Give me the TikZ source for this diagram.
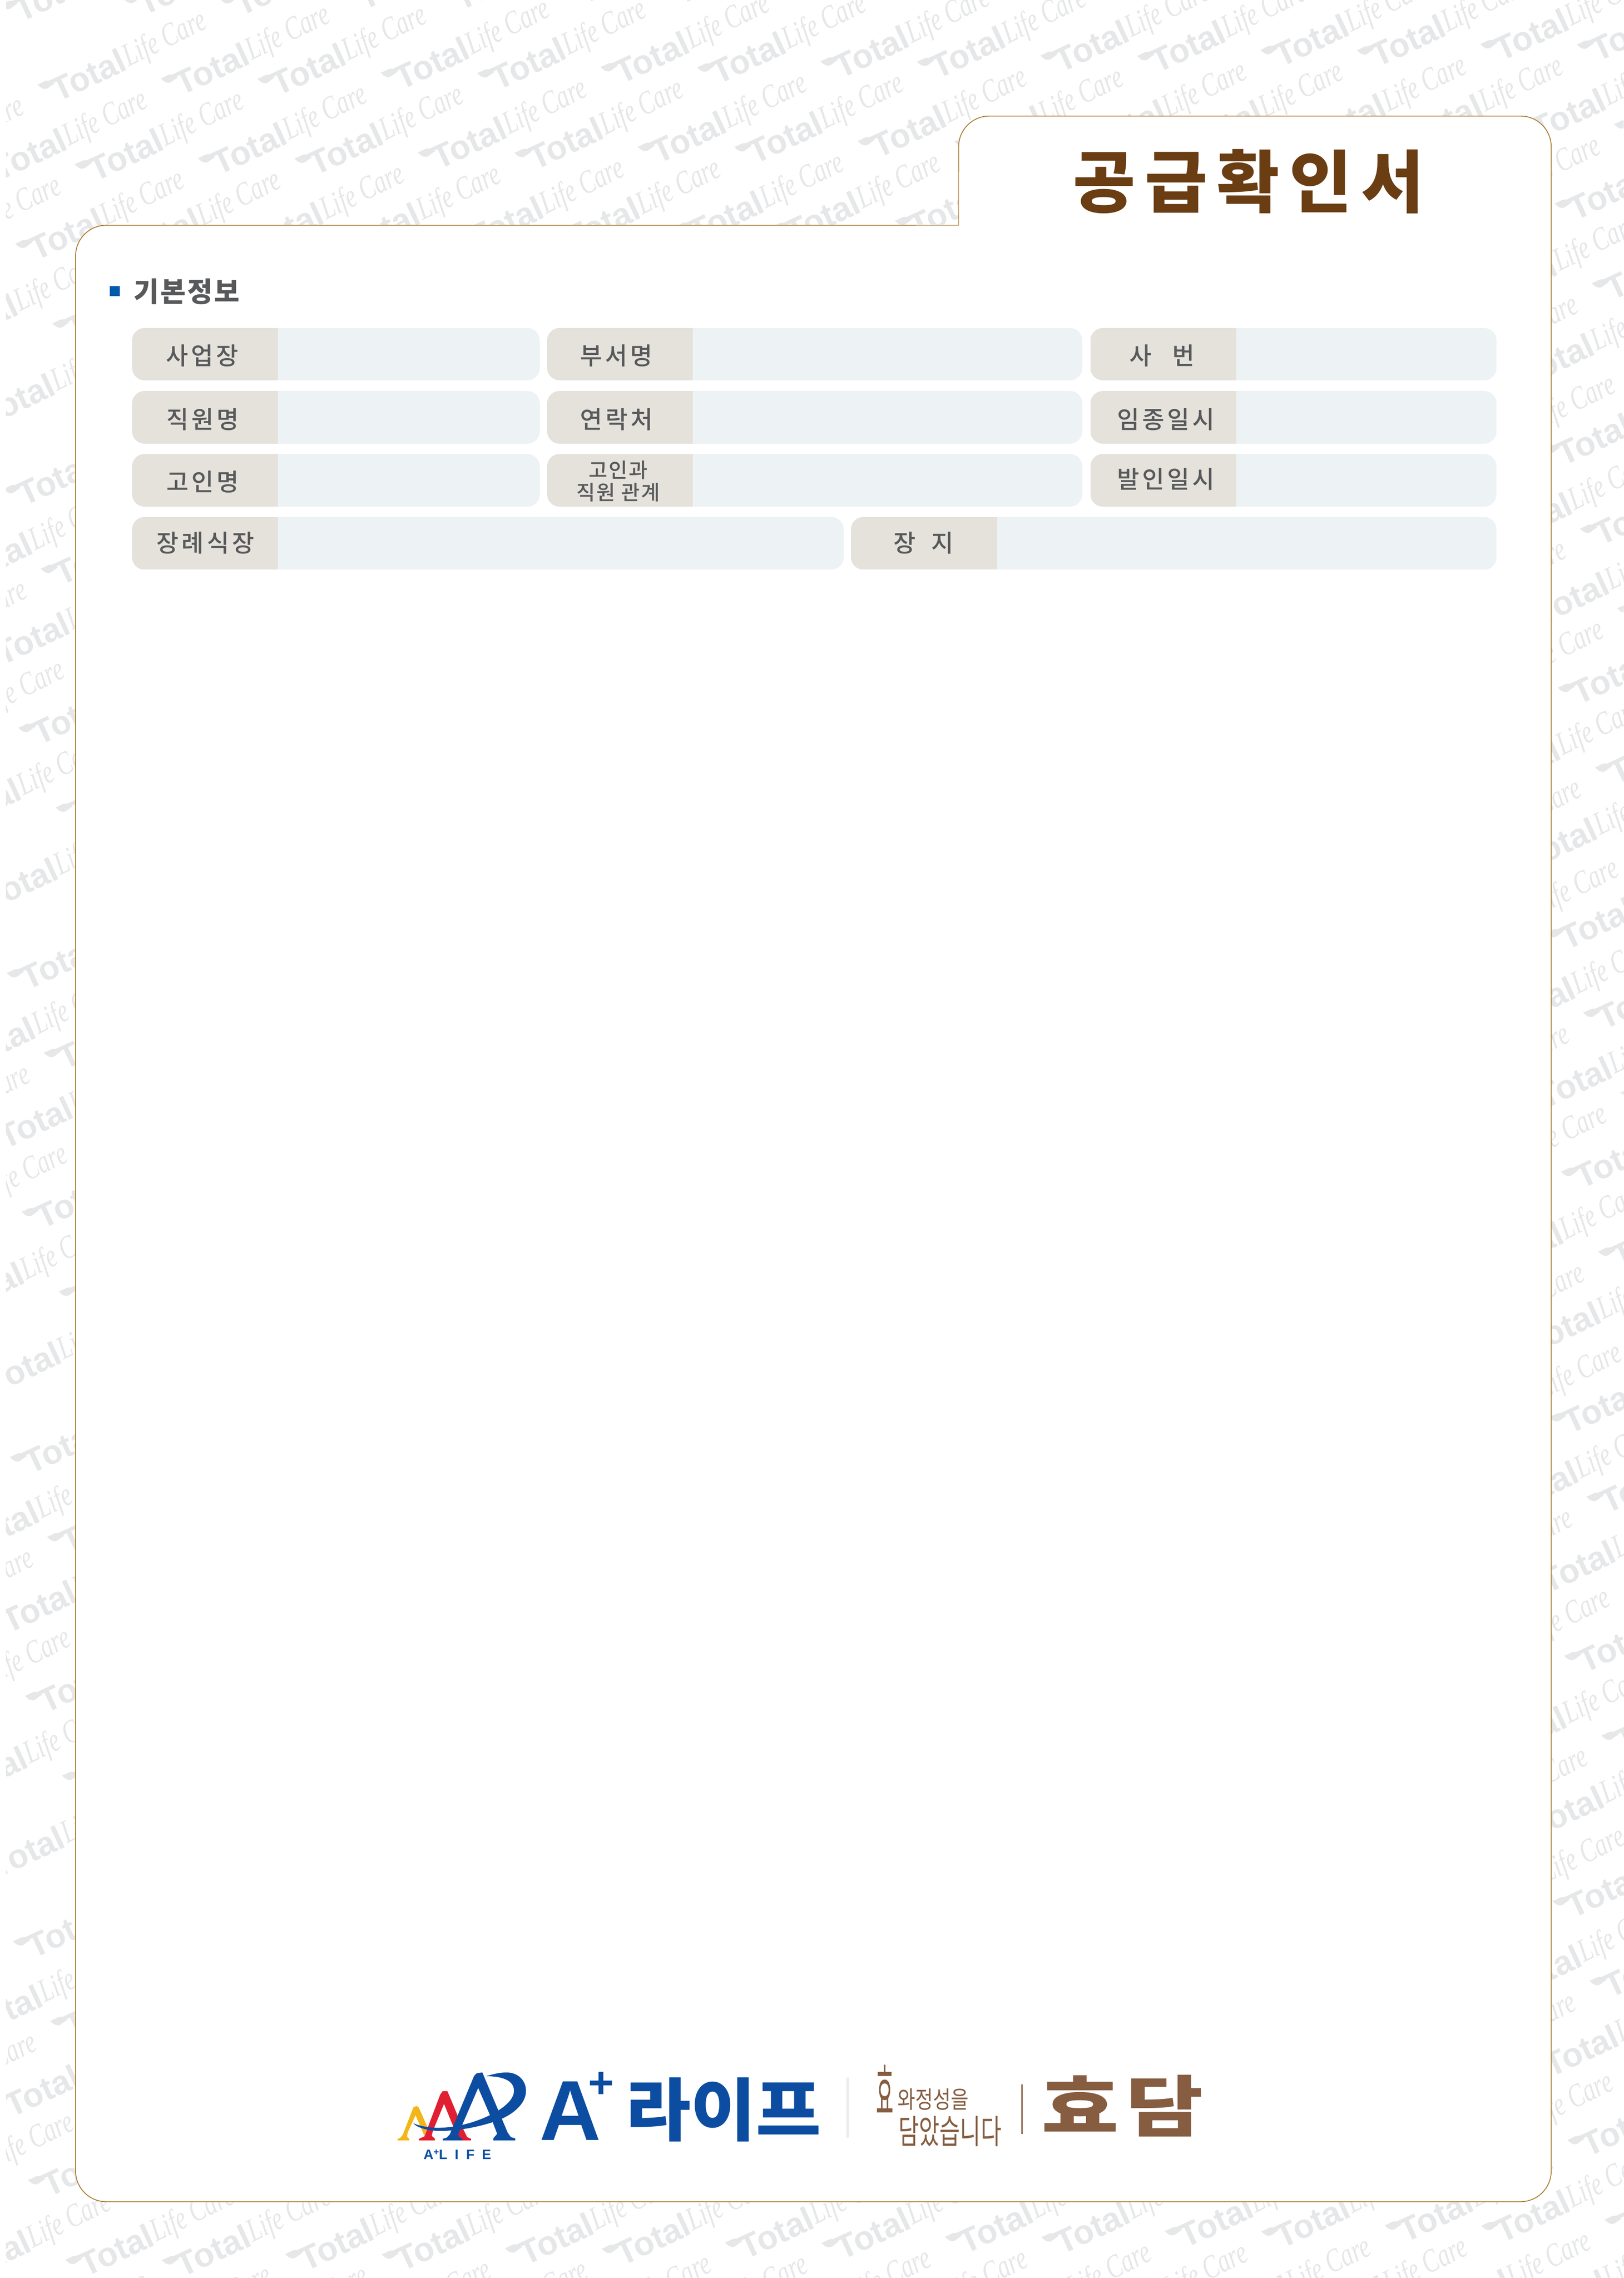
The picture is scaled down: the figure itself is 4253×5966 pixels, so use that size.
\documentclass[tikz,border=0pt]{standalone}
\usepackage{fontspec}
\setmainfont{Noto Sans CJK KR}
\newfontfamily\krlabel[LetterSpace=12]{Noto Sans CJK KR Medium}
\newfontfamily\krsmall[LetterSpace=6]{Noto Sans CJK KR Medium}
\newfontfamily\krhead[LetterSpace=6]{Noto Sans CJK KR}
\newfontfamily\krtitle[LetterSpace=14]{Noto Sans CJK KR}
\newfontfamily\krwide[LetterSpace=8]{Noto Sans CJK KR}
\newfontfamily\latinbold{Liberation Sans}
\newfontfamily\latinwide[LetterSpace=55]{Liberation Sans}
\newfontfamily\careface[FakeStretch=0.72]{Liberation Serif}
\definecolor{markgray}{HTML}{E6E7E8}
\definecolor{framebrown}{HTML}{A97C2F}
\definecolor{titlebrown}{HTML}{6A3D13}
\definecolor{textgray}{HTML}{58595B}
\definecolor{labelfill}{HTML}{E4E2DB}
\definecolor{valuefill}{HTML}{EDF2F4}
\definecolor{bulletblue}{HTML}{005BAC}
\definecolor{logoblue}{HTML}{0C4DA2}
\definecolor{logored}{HTML}{E01F33}
\definecolor{logoyellow}{HTML}{F3B619}
\definecolor{hyobrown}{HTML}{865D41}
\definecolor{barlight}{HTML}{EDEDED}
\newcommand{\fieldbox}[5]{%
  \begin{scope}
    \clip[rounded corners=0.33cm] (#1,#4) rectangle (#3,#5);
    \fill[valuefill] (#1,#4) rectangle (#3,#5);
    \fill[labelfill] (#1,#4) rectangle (#2,#5);
  \end{scope}}
\begin{document}
\begin{tikzpicture}[x=0.01cm,y=-0.01cm,
    totalword/.style={text=markgray,inner sep=0pt,anchor=base west,rotate=25,font=\latinbold\bfseries\fontsize{25}{27}\selectfont},
    careword/.style={text=markgray,inner sep=0pt,anchor=base west,rotate=26,font=\careface\itshape\fontsize{24.5}{27}\selectfont},
    leafmark/.pic={\fill[markgray] (0,0) .. controls (12,-3) and (18,-10) .. (26,-10) .. controls (34,-10) and (40,-6) .. (45,-2) .. controls (35,2) and (29,12) .. (20,12) .. controls (12,12) and (5,6) .. (0,0) -- cycle;},
    field label/.style={inner sep=0pt,text=textgray,font=\krlabel\fontsize{18}{20}\selectfont},
    small label/.style={inner sep=0pt,text=textgray,align=center,font=\krsmall\fontsize{15.2}{16.8}\selectfont},
    hand text/.style={inner sep=0pt,text=hyobrown}
  ]
  \useasboundingbox (0,0) rectangle (4253,5966);
  % background print
  \begin{scope}
    \clip (16,0) rectangle (4253,5966);
    \foreach \n in {-1,...,28} {
      \pgfmathtruncatemacro{\back}{int((97.4*\n+568)/576)}
      \foreach \m in {0,...,8} {
        \foreach \k/\dx/\dy in {a/0/0,b/323/-16} {
          \pgfmathsetmacro{\px}{98+97.4*\n+576*(\m-\back)+\dx}
          \pgfmathsetmacro{\py}{221+208.8*\n-15*(\m-\back)+\dy}
          \pic at (\px,\py) {leafmark};
          \node[totalword] (total-\k-\n-\m) at ({\px+54},{\py+47}) {Total};
          \node[careword] (care-\k-\n-\m) at ({\px+238},{\py-46}) {Life Care};
        }
      }
    }
  \end{scope}
  % sheet with its tab
  \fill[white,rounded corners=0.8cm] (2511,590) -- (2511,304) -- (4063,304) -- (4063,5766) -- (198,5766) -- (198,590) -- (2560,590) [sharp corners] -- (2511,590) -- cycle;
  \draw[framebrown,line width=0.022cm,rounded corners=0.8cm] (2511,450) -- (2511,304) -- (4063,304) -- (4063,5766) -- (198,5766) -- (198,590) -- (2400,590);
  \draw[framebrown,line width=0.022cm] (2400,590) -- (2511,590) -- (2511,450);
  \node[inner sep=0pt,text=titlebrown,font=\krtitle\bfseries\fontsize{50.6}{54}\selectfont] (title) at (3270,475) {공급확인서};
  \fill[bulletblue] (287,749) rectangle (314,776);
  \node[inner sep=0pt,text=textgray,anchor=west,font=\krhead\bfseries\fontsize{20.5}{24}\selectfont] (basic) at (349,763) {기본정보};
  % form rows
  \fieldbox{346}{728}{1414}{859}{996}
  \fieldbox{1433}{1815}{2835}{859}{996}
  \fieldbox{2856}{3238}{3920}{859}{996}
  \fieldbox{346}{728}{1414}{1024}{1162}
  \fieldbox{1433}{1815}{2835}{1024}{1162}
  \fieldbox{2856}{3238}{3920}{1024}{1162}
  \fieldbox{346}{728}{1414}{1189}{1327}
  \fieldbox{1433}{1815}{2835}{1189}{1327}
  \fieldbox{2856}{3238}{3920}{1189}{1327}
  \fieldbox{346}{728}{2210}{1354}{1492}
  \fieldbox{2229}{2612}{3920}{1354}{1492}
  \node[field label] (site) at (530,932) {사업장};
  \node[field label] (dept) at (1614,932) {부서명};
  \node[field label] (empno) at (3044,932) {사\hspace{0.85em}번};
  \node[field label] (staff) at (531,1098) {직원명};
  \node[field label] (phone) at (1615,1098) {연락처};
  \node[field label] (death) at (3054,1098) {임종일시};
  \node[field label] (dead) at (531,1262) {고인명};
  \node[small label] (relation) at (1619,1260) {고인과\\직원 관계};
  \node[field label] (carry) at (3054,1255) {발인일시};
  \node[field label] (hall) at (538,1422) {장례식장};
  \node[field label] (burial) at (2419,1422) {장\hspace{0.65em}지};
  % company logo
  \begin{scope}[shift={(950,5300)},x=0.00829cm,y=-0.00337cm]
    \fill[logoyellow] (110,905) -- (147,905) -- (147,895) -- (140,875) -- (142,845) -- (167,710) -- (195,870) -- (205,805) -- (177,650) -- (170,638) -- (160,650) -- (127,860) -- (118,888) -- (110,895) -- cycle;
    \fill[logored] (178,905) -- (228,905) -- (228,892) -- (218,870) -- (222,830) -- (257,622) -- (300,880) -- (305,905) -- (342,905) -- (342,893) -- (330,880) -- (318,820) -- (268,525) -- (262,522) -- (252,525) -- (245,550) -- (205,810) -- (195,875) -- (178,893) -- cycle;
    \fill[logoblue] (253,905) -- (315,905) -- (315,895) -- (303,875) -- (303,850) -- (365,498) -- (402,708) -- (425,855) -- (413,888) -- (413,905) -- (482,905) -- (482,890) -- (468,880) -- (458,845) -- (378,378) -- (360,385) -- (352,405) -- (275,860) -- (265,885) -- (253,893) -- cycle;
    \fill[logoblue] (390,407) .. controls (420,385) and (440,378) .. (455,378) .. controls (495,380) and (516,450) .. (516,520) .. controls (516,600) and (490,680) .. (440,737) .. controls (390,790) and (310,832) .. (245,832) .. controls (205,832) and (170,805) .. (160,772) .. controls (180,795) and (210,808) .. (240,808) .. controls (310,805) and (370,750) .. (410,700) .. controls (455,640) and (478,580) .. (478,520) .. controls (478,450) and (450,408) .. (390,407) -- cycle;
  \end{scope}
  \node[inner sep=0pt,text=logoblue,font=\latinwide\bfseries\fontsize{10.2}{12}\selectfont] (alife) at (1198,5643) {A\raisebox{0.3em}{\fontsize{7}{7}\selectfont +}LIFE};
  \node[inner sep=0pt,anchor=base west,text=logoblue,font=\latinbold\bfseries\fontsize{63.4}{66}\selectfont] (aplus) at (1413,5605) {A\kern-0.34cm\raisebox{1.11cm}{\fontsize{32.7}{34}\selectfont +}};
  \node[inner sep=0pt,text=logoblue,font=\bfseries\fontsize{49.8}{54}\selectfont] (lifekr) at (1895,5525) {\scalebox{1.06}[1.02]{라이프}};
  \fill[barlight] (2217,5441) rectangle (2224,5598);
  % slogan and brand
  \node[hand text,font=\fontsize{15.6}{18}\selectfont] (hyo) at (2318,5472) {\scalebox{0.9}[2.9]{효}};
  \node[hand text,font=\fontsize{13.7}{16}\selectfont] (care) at (2444,5498) {\scalebox{1.05}[1.3]{와정성을}};
  \node[hand text,font=\fontsize{15.6}{18}\selectfont] (held) at (2488,5582) {\scalebox{1.07}[1.6]{담았습니다}};
  \draw[hyobrown,line width=0.03cm] (2677,5459) -- (2677,5589);
  \node[hand text,font=\krwide\bfseries\fontsize{56.9}{60}\selectfont] (hyodam) at (2940,5515) {\scalebox{1.1}[0.87]{효담}};
\end{tikzpicture}
\end{document}
